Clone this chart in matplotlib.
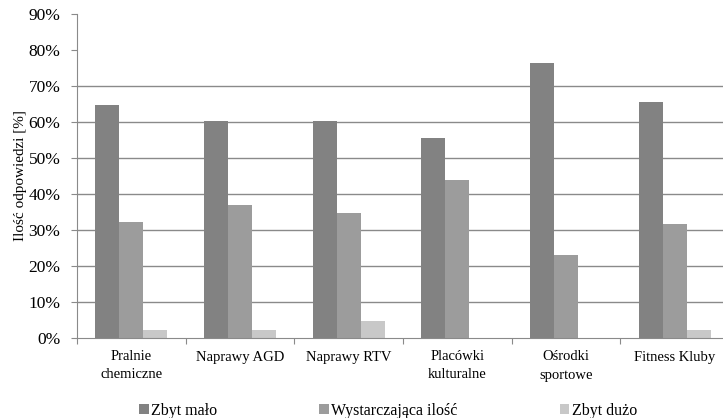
import matplotlib.pyplot as plt
import numpy as np

plt.rcParams['font.family'] = ['Liberation Serif', 'DejaVu Serif']

# dane
kategorie = ['Pralnie\nchemiczne', 'Naprawy AGD', 'Naprawy RTV',
             'Placówki\nkulturalne', 'Ośrodki\nsportowe', 'Fitness Kluby']
zbyt_malo = [64.7, 60.3, 60.3, 55.6, 76.4, 65.6]
wystarczajaca = [32.2, 36.9, 34.7, 43.9, 23.1, 31.7]
zbyt_duzo = [2.2, 2.2, 4.7, 0.0, 0.0, 2.2]
serie = ['Zbyt mało', 'Wystarczająca ilość', 'Zbyt dużo']
kolory = ['#828282', '#9c9c9c', '#c8c8c8']
y_ticks = [0, 10, 20, 30, 40, 50, 60, 70, 80, 90]

fig = plt.figure(figsize=(7.23, 4.18), dpi=100)
ax = fig.add_axes([77 / 723, 80 / 418, (729 - 77) / 723, 324 / 418])

x = np.arange(len(kategorie))
w = 0.22
# siatka tylko do 70% jak w oryginale
for v in y_ticks[1:8]:
    ax.axhline(v, color='#8a8a8a', lw=1.0, zorder=0)

handles = []
for i, (dane, kol) in enumerate(zip([zbyt_malo, wystarczajaca, zbyt_duzo], kolory)):
    h = ax.bar(x + (i - 1) * w, dane, width=w, color=kol, zorder=2, label=serie[i])
    handles.append(h)

ax.set_xlim(-0.5, len(kategorie) - 0.5)
ax.set_ylim(0, 90)
ax.set_yticks(y_ticks)
ax.set_yticklabels([f'{v}%' for v in y_ticks], fontsize=12.5)
ax.set_xticks(np.arange(len(kategorie) + 1) - 0.5)
ax.set_xticklabels([])
ax.set_xticks(x, minor=True)
ax.set_xticklabels(kategorie, minor=True, fontsize=10.5, linespacing=1.5)
ax.tick_params(axis='x', which='minor', length=0, pad=9)
ax.tick_params(axis='x', which='major', length=4, color='#8a8a8a', direction='out')
ax.tick_params(axis='y', length=4, color='#8a8a8a', pad=8)

for s in ['top', 'right']:
    ax.spines[s].set_visible(False)
ax.spines['left'].set_color('#8a8a8a')
ax.spines['bottom'].set_color('#8a8a8a')

ax.set_ylabel('Ilość odpowiedzi [%]', fontsize=11, labelpad=1)

fig.legend(handles=handles, loc='center', bbox_to_anchor=(388 / 723, 7 / 418),
           ncol=3, frameon=False, fontsize=11.5, handlelength=0.6, handleheight=0.6,
           handletextpad=0.15, columnspacing=6.4)

fig.savefig('out.png', dpi=100)
